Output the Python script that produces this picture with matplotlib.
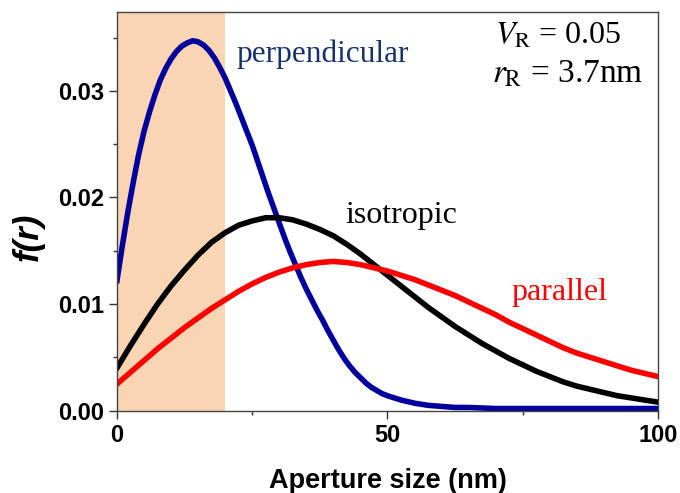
import matplotlib
matplotlib.use('Agg')
import matplotlib.pyplot as plt
from matplotlib.ticker import MultipleLocator

plt.rcParams['mathtext.fontset'] = 'stix'

# perpendicular curve read every 1 nm up to 50 nm, then every 2.5 nm
r_perp = [0, 1, 2, 3, 4, 5, 6, 7, 8, 9, 10, 11, 12, 13, 14, 15, 16, 17, 18, 19, 20,
          21, 22, 23, 24, 25, 26, 27, 28, 29, 30, 31, 32, 33, 34, 35, 36, 37, 38, 39, 40,
          41, 42, 43, 44, 45, 46, 47, 48, 49, 50, 52.5, 55, 57.5, 60, 62.5, 65, 70, 75,
          80, 85, 90, 95, 100]
perpendicular = [0.0122, 0.0155, 0.0186, 0.0214, 0.0240, 0.0262, 0.0280, 0.0296, 0.0310,
                 0.0321, 0.0330, 0.0337, 0.0342, 0.0345, 0.0347, 0.0346, 0.0343, 0.0338,
                 0.0331, 0.0322, 0.0312, 0.0300, 0.0288, 0.0275, 0.0262, 0.0249, 0.0234,
                 0.0219, 0.0204, 0.0190, 0.0176, 0.0162, 0.0149, 0.0137, 0.0125, 0.0114,
                 0.0104, 0.0094, 0.0085, 0.0075, 0.0066, 0.0057, 0.0049, 0.0042, 0.0036,
                 0.0031, 0.0026, 0.0022, 0.0019, 0.0016, 0.0014, 0.0010, 0.0007, 0.0005,
                 0.0004, 0.0003, 0.0003, 0.0002, 0.0002, 0.0002, 0.0002, 0.0002, 0.0002,
                 0.0002]

# isotropic and parallel read every 2.5 nm
r_nm = [0, 2.5, 5, 7.5, 10, 12.5, 15, 17.5, 20, 22.5, 25, 27.5, 30, 32.5, 35, 37.5,
        40, 42.5, 45, 47.5, 50, 52.5, 55, 57.5, 60, 62.5, 65, 67.5, 70, 72.5, 75, 77.5,
        80, 82.5, 85, 87.5, 90, 92.5, 95, 97.5, 100]

isotropic = [0.0040, 0.0061, 0.0081, 0.0100, 0.0117, 0.0132, 0.0146, 0.0158, 0.0167,
             0.0174, 0.0178, 0.0181, 0.0181, 0.0179, 0.0175, 0.0170, 0.0164, 0.0156,
             0.0147, 0.0137, 0.0127, 0.0117, 0.0107, 0.0097, 0.0088, 0.0079, 0.0071,
             0.0063, 0.0056, 0.0049, 0.0043, 0.0037, 0.0032, 0.0027, 0.0023, 0.0020,
             0.0017, 0.0014, 0.0012, 0.0010, 0.0008]

parallel = [0.0025, 0.0036, 0.0047, 0.0058, 0.0068, 0.0078, 0.0087, 0.0096, 0.0104,
            0.0112, 0.0119, 0.0125, 0.0130, 0.0134, 0.0137, 0.0139, 0.0140, 0.0139,
            0.0137, 0.0134, 0.0131, 0.0127, 0.0123, 0.0118, 0.0113, 0.0108, 0.0102,
            0.0096, 0.0090, 0.0083, 0.0077, 0.0071, 0.0065, 0.0059, 0.0054, 0.0050,
            0.0046, 0.0042, 0.0038, 0.0035, 0.0032]

shade_range = (0, 20)

sans = 'Liberation Sans'
serif = 'Liberation Serif'

fig = plt.figure(figsize=(6.8, 4.93), dpi=100)
ax = fig.add_axes([0.172, 0.167, 0.7956, 0.8087])

ax.axvspan(shade_range[0], shade_range[1], color='#fad5b4', lw=0, zorder=0)

ax.plot(r_perp, perpendicular, color='#00009c', lw=4, solid_joinstyle='round')
ax.plot(r_nm, isotropic, color='black', lw=4, solid_joinstyle='round')
ax.plot(r_nm, parallel, color='#ff0000', lw=4, solid_joinstyle='round')

ax.set_xlim(0, 100)
ax.set_ylim(0, 0.0374)
ax.xaxis.set_minor_locator(MultipleLocator(25))
ax.yaxis.set_minor_locator(MultipleLocator(0.005))
ax.set_yticks([0, 0.01, 0.02, 0.03])
ax.set_yticklabels(['0.00', '0.01', '0.02', '0.03'])
ax.set_xticks([0, 50, 100])
ax.set_xticklabels(['0', '50', '100'])

ax.tick_params(which='both', direction='out', top=False, right=False, color='#333333', width=1)
ax.tick_params(which='major', length=5.5, pad=4)
ax.tick_params(which='minor', length=3)
for lbl in ax.get_xticklabels() + ax.get_yticklabels():
    lbl.set_fontfamily(sans)
    lbl.set_fontweight('bold')
    lbl.set_fontsize(17)
for sp in ax.spines.values():
    sp.set_color('#444444')
    sp.set_linewidth(1)

ax.set_xlabel('Aperture size (nm)', fontfamily=sans, fontweight='bold', fontsize=19.5, labelpad=15.5)
fig.text(28 / 680, 1 - 237 / 493, 'f(r)', fontfamily=sans, fontweight='bold',
         fontstyle='italic', fontsize=25, rotation=90, ha='center', va='center')

ax.text(22, 0.0334, 'perpendicular', color='#16306e', fontfamily=serif, fontsize=22.5, va='center')
ax.text(42.3, 0.0183, 'isotropic', color='black', fontfamily=serif, fontsize=23, va='center')
ax.text(73, 0.0111, 'parallel', color='#ff0000', fontfamily=serif, fontsize=23, va='center')
ax.text(69.8, 0.0351, r'$V_\mathrm{R}$ = 0.05', color='black', fontfamily=serif, fontsize=23,
        ha='left', va='center')
ax.text(69.3, 0.0316, r'$r_\mathrm{R}$ = 3.7nm', color='black', fontfamily=serif, fontsize=24,
        ha='left', va='center')

fig.savefig('out.png', dpi=100)
